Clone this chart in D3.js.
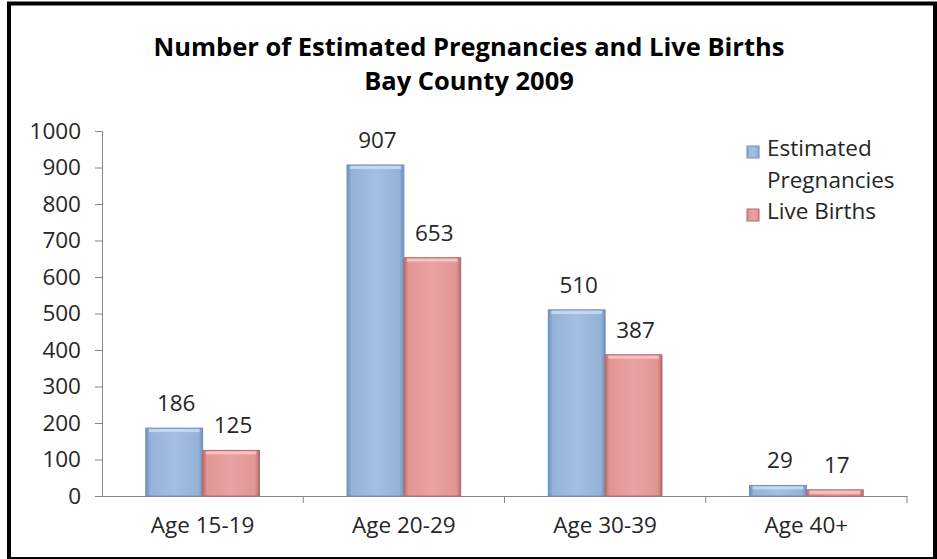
<!DOCTYPE html>
<html><head><meta charset="utf-8">
<script src="https://cdn.jsdelivr.net/npm/d3@7"></script>
<style>body{margin:0;background:#fff}svg{display:block}</style>
</head><body>
<svg id="chart" width="937" height="559"></svg>
<script>
const categories = ["Age 15-19", "Age 20-29", "Age 30-39", "Age 40+"];
const seriesNames = ["Estimated Pregnancies", "Live Births"];
const pregnancies = [186, 907, 510, 29];
const liveBirths = [125, 653, 387, 17];
const yTicks = [0, 100, 200, 300, 400, 500, 600, 700, 800, 900, 1000];
const titleLines = ["Number of Estimated Pregnancies and Live Births", "Bay County 2009"];

const svg = d3.select("#chart");
const font = "'Open Sans', 'Liberation Sans', sans-serif";
const textColor = "#262626";

// frame (bottom edge partly cut off by the picture)
svg.append("rect").attr("x", 9).attr("y", 3.5).attr("width", 926).attr("height", 555.5)
  .attr("fill", "#fff").attr("stroke", "#000").attr("stroke-width", 4);

const defs = svg.append("defs");
function grad(id, light, mid, dark) {
  const g = defs.append("linearGradient").attr("id", id).attr("x1", 0).attr("x2", 1).attr("y1", 0).attr("y2", 0);
  g.append("stop").attr("offset", "0%").attr("stop-color", dark);
  g.append("stop").attr("offset", "8%").attr("stop-color", mid);
  g.append("stop").attr("offset", "50%").attr("stop-color", light);
  g.append("stop").attr("offset", "92%").attr("stop-color", mid);
  g.append("stop").attr("offset", "100%").attr("stop-color", dark);
}
grad("gBlue", "#a3bfe3", "#95b3d7", "#6f8fbf");
grad("gRed", "#eaa2a2", "#e39594", "#b56c6a");

const margin = {left: 102, right: 30, top: 131, bottom: 63};
const W = 937, H = 559;
const x0 = d3.scaleBand().domain(categories).range([margin.left, W - margin.right]).paddingInner(0).paddingOuter(0);
const x1 = d3.scaleBand().domain(seriesNames).range([0, x0.bandwidth()]).paddingInner(0).paddingOuter(0.77);
const y = d3.scaleLinear().domain([0, 1000]).range([H - margin.bottom, margin.top]);

// title
svg.append("g").selectAll("text").data(titleLines).join("text")
  .attr("x", 469).attr("y", (d, i) => 56 + i * 34)
  .attr("text-anchor", "middle").attr("font-family", font).attr("font-weight", "bold")
  .attr("font-size", 25.5).attr("fill", "#000").text(d => d);

// y axis
const yAxis = svg.append("g").attr("transform", `translate(${margin.left},0)`)
  .call(d3.axisLeft(y).tickValues(yTicks).tickSize(7).tickPadding(14).tickFormat(d3.format("d")));
yAxis.select(".domain").attr("stroke", "#868686");
yAxis.selectAll(".tick line").attr("stroke", "#868686");
yAxis.selectAll("text").attr("font-family", font).attr("font-size", 22.5).attr("fill", textColor);

// x axis
const xAxis = svg.append("g").attr("transform", `translate(0,${y(0)})`)
  .call(d3.axisBottom(x0).tickSize(0).tickPadding(21));
xAxis.select(".domain").attr("stroke", "#868686");
xAxis.selectAll("text").attr("font-family", font).attr("font-size", 22.5).attr("fill", textColor);
xAxis.append("g").selectAll("line").data(categories.slice(1).concat(["_end"])).join("line")
  .attr("x1", (d, i) => margin.left + (i + 1) * x0.bandwidth())
  .attr("x2", (d, i) => margin.left + (i + 1) * x0.bandwidth())
  .attr("y1", 0).attr("y2", 7).attr("stroke", "#868686");

const data = categories.map((c, i) => ({cat: c, vals: [
  {s: seriesNames[0], v: pregnancies[i]}, {s: seriesNames[1], v: liveBirths[i]}]}));
const fills = {"Estimated Pregnancies": "url(#gBlue)", "Live Births": "url(#gRed)"};
const strokes = {"Estimated Pregnancies": "#6f8fbf", "Live Births": "#b56c6a"};
const tops = {"Estimated Pregnancies": "#cfe0f5", "Live Births": "#f6c9c9"};

const groups = svg.append("g").selectAll("g").data(data).join("g")
  .attr("transform", d => `translate(${x0(d.cat)},0)`);
groups.selectAll("rect.bar").data(d => d.vals).join("rect").attr("class", "bar")
  .attr("x", d => x1(d.s)).attr("width", x1.bandwidth())
  .attr("y", d => y(d.v)).attr("height", d => y(0) - y(d.v))
  .attr("fill", d => fills[d.s]).attr("stroke", d => strokes[d.s]).attr("stroke-width", 1);
groups.selectAll("rect.top").data(d => d.vals.filter(v => y(0) - y(v.v) > 6)).join("rect").attr("class", "top")
  .attr("x", d => x1(d.s) + 3).attr("width", x1.bandwidth() - 6)
  .attr("y", d => y(d.v) + 1).attr("height", 3)
  .attr("fill", d => tops[d.s]).attr("opacity", 0.8);
groups.selectAll("text").data(d => d.vals).join("text")
  .attr("x", d => x1(d.s) + x1.bandwidth() / 2 + 2).attr("y", d => y(d.v) - 17)
  .attr("text-anchor", "middle").attr("font-family", font).attr("font-size", 22.5)
  .attr("fill", textColor).text(d => d.v);

// legend
const legend = svg.append("g").attr("transform", "translate(747,140)");
const legendRows = [
  {s: seriesNames[0], lines: ["Estimated", "Pregnancies"], y: 0},
  {s: seriesNames[1], lines: ["Live Births"], y: 63}
];
legendRows.forEach(r => {
  legend.append("rect").attr("x", 0).attr("y", r.y + 6).attr("width", 12).attr("height", 12)
    .attr("fill", fills[r.s]).attr("stroke", strokes[r.s]);
  r.lines.forEach((t, i) => legend.append("text").attr("x", 20).attr("y", r.y + 16 + i * 32)
    .attr("font-family", font).attr("font-size", 22.5).attr("fill", textColor).text(t));
});
</script>
</body></html>
